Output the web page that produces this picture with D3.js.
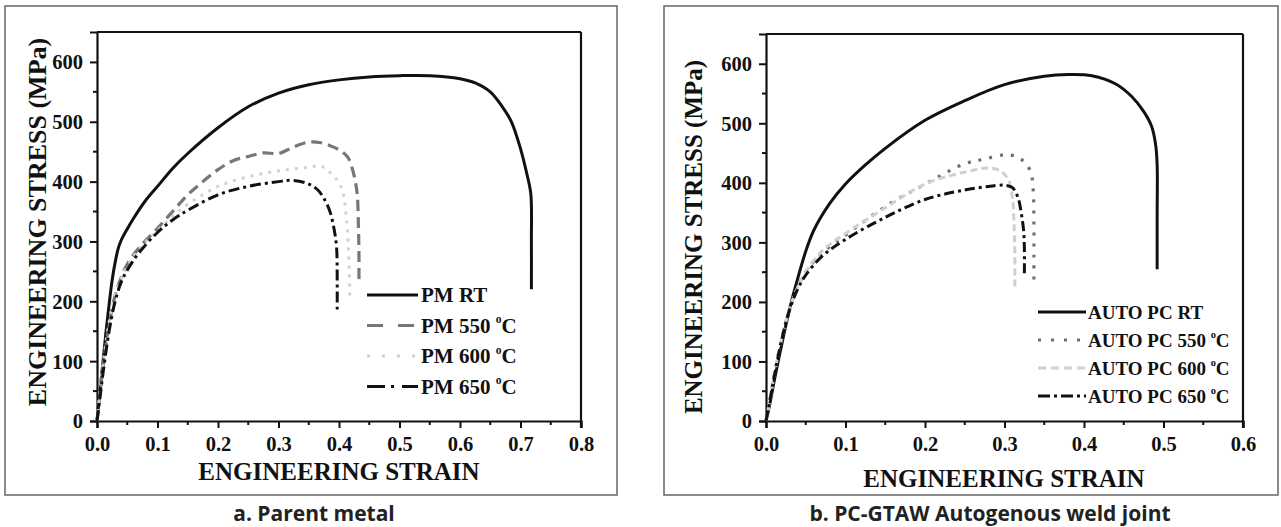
<!DOCTYPE html>
<html><head><meta charset="utf-8">
<script src="https://cdn.jsdelivr.net/npm/d3@7"></script>
<style>body{margin:0;background:#fff}svg{display:block}</style>
</head><body>
<svg id="c" width="1281" height="527"></svg>
<script>
// ---------- DATA ----------
const pmXTicks = [0,0.1,0.2,0.3,0.4,0.5,0.6,0.7,0.8];
const pcXTicks = [0,0.1,0.2,0.3,0.4,0.5,0.6];
const yTicks = [0,100,200,300,400,500,600];

const pmLabels = ["PM RT","PM 550 ","PM 600 ","PM 650 "];
const pcLabels = ["AUTO PC RT","AUTO PC 550 ","AUTO PC 600 ","AUTO PC 650 "];

const pmRT = [[0,0],[0.005,50],[0.01,100],[0.015,150],[0.02,195],[0.025,235],[0.03,265],[0.035,288],[0.04,302],[0.05,321],[0.06,338],[0.08,368],[0.1,392],[0.125,422],[0.15,447],[0.2,490],[0.25,525],[0.3,548],[0.35,562],[0.4,570],[0.45,575],[0.5,577],[0.55,577],[0.6,572],[0.625,565],[0.65,550],[0.67,525],[0.685,500],[0.7,455],[0.71,415],[0.717,380],[0.718,300],[0.718,220]];
const pm550 = [[0,0],[0.005,45],[0.01,90],[0.02,160],[0.03,210],[0.04,240],[0.05,262],[0.07,290],[0.1,322],[0.125,350],[0.15,378],[0.175,400],[0.2,420],[0.225,435],[0.25,442],[0.275,448],[0.3,447],[0.325,458],[0.35,466],[0.37,465],[0.39,458],[0.405,450],[0.415,440],[0.425,410],[0.43,380],[0.432,330],[0.433,280],[0.433,230]];
const pm600 = [[0,0],[0.005,50],[0.01,95],[0.02,165],[0.03,210],[0.04,238],[0.05,258],[0.07,288],[0.1,318],[0.125,342],[0.15,362],[0.2,392],[0.25,408],[0.3,418],[0.35,424],[0.37,426],[0.385,415],[0.4,398],[0.408,375],[0.412,340],[0.415,300],[0.417,250],[0.418,205]];
const pm650 = [[0,0],[0.005,40],[0.01,80],[0.02,150],[0.03,200],[0.04,232],[0.05,252],[0.07,282],[0.1,315],[0.125,336],[0.15,352],[0.2,378],[0.25,392],[0.3,400],[0.325,402],[0.35,396],[0.365,386],[0.375,372],[0.385,350],[0.392,320],[0.396,290],[0.397,240],[0.397,180]];

const pcRT = [[0,0],[0.005,30],[0.01,65],[0.02,130],[0.03,190],[0.04,240],[0.05,285],[0.06,320],[0.08,365],[0.1,398],[0.125,430],[0.15,458],[0.2,505],[0.25,538],[0.3,565],[0.35,579],[0.38,582],[0.41,580],[0.44,566],[0.46,545],[0.475,520],[0.485,495],[0.49,465],[0.492,430],[0.492,340],[0.492,255]];
const pc550 = [[0,0],[0.005,35],[0.01,75],[0.02,140],[0.03,190],[0.04,225],[0.05,250],[0.07,282],[0.1,312],[0.15,360],[0.2,398],[0.25,432],[0.275,440],[0.3,447],[0.315,444],[0.325,435],[0.333,418],[0.336,390],[0.337,330],[0.337,270],[0.337,225]];
const pc600 = [[0,0],[0.005,35],[0.01,75],[0.02,140],[0.03,190],[0.04,225],[0.05,250],[0.07,285],[0.1,315],[0.15,358],[0.2,398],[0.25,418],[0.28,425],[0.295,420],[0.305,405],[0.31,375],[0.312,330],[0.313,280],[0.313,220]];
const pc650 = [[0,0],[0.005,35],[0.01,72],[0.02,138],[0.03,188],[0.04,222],[0.05,245],[0.07,276],[0.1,305],[0.15,342],[0.2,372],[0.25,388],[0.28,394],[0.3,396],[0.31,392],[0.317,375],[0.321,350],[0.324,320],[0.325,290],[0.325,245]];

// ---------- DRAW ----------
const svg = d3.select("#c");
const serif = "'Liberation Serif','Times New Roman',serif";

function panel(opt){
  const g = svg.append("g");
  g.append("rect").attr("x",opt.frame[0]).attr("y",opt.frame[1]).attr("width",opt.frame[2]).attr("height",opt.frame[3])
    .attr("fill","none").attr("stroke","#666").attr("stroke-width",1.5);
  const x = d3.scaleLinear().domain(opt.xDomain).range(opt.xRange);
  const y = d3.scaleLinear().domain([0,650]).range(opt.yRange);

  // minor ticks
  const xMinor = d3.range(opt.xDomain[0]+0.05, opt.xDomain[1], 0.1);
  g.selectAll(null).data(xMinor).join("line")
    .attr("x1",d=>x(d)).attr("x2",d=>x(d)).attr("y1",y(0)).attr("y2",y(0)+4)
    .attr("stroke","#111").attr("stroke-width",2);
  g.selectAll(null).data(d3.range(50,650,100)).join("line")
    .attr("y1",d=>y(d)).attr("y2",d=>y(d)).attr("x1",x(0)).attr("x2",x(0)-4)
    .attr("stroke","#111").attr("stroke-width",2);

  const xa = g.append("g").attr("transform",`translate(0,${y(0)})`)
    .call(d3.axisBottom(x).tickValues(opt.xTicks).tickFormat(d3.format(".1f")).tickSize(7).tickPadding(8));
  const ya = g.append("g").attr("transform",`translate(${x(0)},0)`)
    .call(d3.axisLeft(y).tickValues(yTicks).tickFormat(d3.format("d")).tickSize(7).tickPadding(7));
  [xa,ya].forEach(a=>{
    a.select(".domain").attr("stroke","#111").attr("stroke-width",2.2);
    a.selectAll(".tick line").attr("stroke","#111").attr("stroke-width",2);
    a.selectAll("text").attr("font-family",serif).attr("font-weight","bold").attr("font-size",20.5).attr("fill","#111");
  });
  ya.selectAll("text").attr("dy","0.34em");
  // top & right frame
  g.append("line").attr("x1",x(opt.xDomain[0])).attr("x2",x(opt.xDomain[1])).attr("y1",y(650)).attr("y2",y(650))
    .attr("stroke","#111").attr("stroke-width",2.2);
  g.append("line").attr("x1",x(opt.xDomain[1])).attr("x2",x(opt.xDomain[1])).attr("y1",y(650)).attr("y2",y(0)+7)
    .attr("stroke","#111").attr("stroke-width",2.2);

  // titles
  g.append("text").attr("x",opt.xTitle[0]).attr("y",opt.xTitle[1]).attr("text-anchor","middle")
    .attr("font-family",serif).attr("font-weight","bold").attr("font-size",25).attr("fill","#111")
    .text("ENGINEERING STRAIN");
  g.append("text").attr("transform",`translate(${opt.yTitle[0]},${opt.yTitle[1]}) rotate(-90)`).attr("text-anchor","middle")
    .attr("font-family",serif).attr("font-weight","bold").attr("font-size",opt.yTitleSize).attr("fill","#111")
    .attr("dominant-baseline","central")
    .text("ENGINEERING STRESS (MPa)");

  // curves
  const line = d3.line().x(d=>x(d[0])).y(d=>y(d[1])).curve(d3.curveCatmullRom.alpha(0.5));
  opt.series.forEach(s=>{
    g.append("path").datum(s.data).attr("d",line).attr("fill","none")
      .attr("stroke",s.color).attr("stroke-width",s.w).attr("stroke-dasharray",s.dash)
      .attr("stroke-linecap",s.cap||"butt");
  });

  // legend
  const L = opt.legend;
  opt.series.forEach((s,i)=>{
    const yy = L.y0 + i*L.dy;
    g.append("line").attr("x1",L.x1).attr("x2",L.x2).attr("y1",yy).attr("y2",yy)
      .attr("stroke",s.color).attr("stroke-width",s.w).attr("stroke-dasharray",s.ldash)
      .attr("stroke-linecap",s.cap||"butt");
    const t = g.append("text").attr("x",L.tx).attr("y",yy).attr("dy","0.35em")
      .attr("font-family",serif).attr("font-weight","bold").attr("font-size",L.size).attr("fill","#111");
    t.append("tspan").text(opt.labels[i]);
    if(i>0){
      t.append("tspan").attr("font-size",L.size*0.55).attr("dy",-L.size*0.45).text("o");
      t.append("tspan").attr("dy",L.size*0.45).text("C");
    }
  });

  svg.append("text").attr("x",opt.caption[0]).attr("y",opt.caption[1]).attr("text-anchor","middle")
    .attr("font-family","'Open Sans',Lato,sans-serif").attr("font-weight","bold").attr("font-size",21).attr("fill","#222")
    .text(opt.captionText);
}

panel({
  frame:[5,6,612,489], xDomain:[0,0.8], xRange:[97,581], yRange:[421,32], xTicks:pmXTicks,
  xTitle:[339,480], yTitle:[37,222], yTitleSize:26,
  labels:pmLabels,
  series:[
    {data:pmRT,color:"#111",w:3,dash:null,ldash:null},
    {data:pm550,color:"#777",w:3.2,dash:"11,6",ldash:"16,15"},
    {data:pm600,color:"#d2d2d2",w:3,dash:"3,6",ldash:"3,12"},
    {data:pm650,color:"#111",w:3,dash:"11,4,3,4",ldash:"18,6,3,8,16"}
  ],
  legend:{x1:367,x2:418,tx:421,y0:295,dy:30.5,size:21},
  caption:[314,521], captionText:"a. Parent metal"
});

panel({
  frame:[664,6,614,489], xDomain:[0,0.6], xRange:[766,1243], yRange:[421,34], xTicks:pcXTicks,
  xTitle:[1004,487], yTitle:[693,237], yTitleSize:25,
  labels:pcLabels,
  series:[
    {data:pcRT,color:"#111",w:3,dash:null,ldash:null},
    {data:pc550,color:"#707070",w:3.2,dash:"3,8",ldash:"3,10"},
    {data:pc600,color:"#d0d0d0",w:3,dash:"7,4",ldash:"8,5"},
    {data:pc650,color:"#111",w:3,dash:"10,4,3,4",ldash:"12,4,3,4"}
  ],
  legend:{x1:1038,x2:1086,tx:1088,y0:312,dy:28,size:19},
  caption:[990,521], captionText:"b. PC-GTAW Autogenous weld joint"
});
</script>
</body></html>
